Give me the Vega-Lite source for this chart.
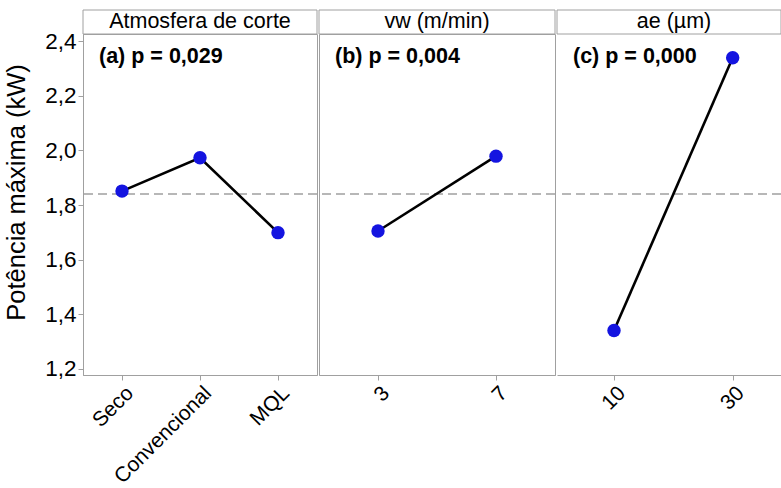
{
  "$schema": "https://vega.github.io/schema/vega-lite/v6.json",
  "padding": {"left": 4, "top": 9, "right": 0, "bottom": 0},
  "background": "white",
  "spacing": -3,
  "config": {
    "font": "Liberation Sans",
    "view": {"stroke": "#a0a0a0", "strokeWidth": 1},
    "axis": {"domainColor": "#a0a0a0", "tickColor": "#a0a0a0", "tickSize": 5, "labelColor": "black", "labelFontSize": 21, "labelFont": "Liberation Sans", "grid": false, "titleColor": "black", "titleFont": "Liberation Sans"},
    "concat": {"spacing": 0},
    "text": {"font": "Liberation Sans"}
  },
  "datasets": {
    "atm": [{"nivel": "Seco", "potencia": 1.851}, {"nivel": "Convencional", "potencia": 1.973}, {"nivel": "MQL", "potencia": 1.699}],
    "vw": [{"nivel": "3", "potencia": 1.705}, {"nivel": "7", "potencia": 1.979}],
    "ae": [{"nivel": 10, "potencia": 1.341}, {"nivel": 30, "potencia": 2.339}],
    "media": [{"media": 1.84}]
  },
  "hconcat": [
    {
      "spacing": 0,
      "bounds": "flush",
      "vconcat": [
        {"width": 234, "height": 24, "data": {"values": [{"fator": "Atmosfera de corte"}]},
          "layer": [
            {"mark": {"type": "rect", "fill": "white", "stroke": "#a0a0a0", "strokeWidth": 1}, "encoding": {}},
            {"mark": {"type": "text", "fontSize": 21.5, "color": "black", "baseline": "middle"}, "encoding": {"text": {"field": "fator"}}}
          ]},
        {
          "width": 234, "height": 341,
          "layer": [
            {"data": {"name": "media"}, "mark": {"type": "rule", "color": "#a0a0a0", "strokeDash": [9, 5], "strokeWidth": 1.5}, "encoding": {"y": {"field": "media", "type": "quantitative", "scale": {"domain": [1.178, 2.426], "nice": false, "zero": false}, "axis": {"title": "Potência máxima (kW)", "values": [1.2, 1.4, 1.6, 1.8, 2.0, 2.2, 2.4], "labelExpr": "replace(format(datum.value, '.1f'), '.', ',')", "labelFontSize": 22.5, "titleFontSize": 25.5, "titleFontWeight": "normal", "titlePadding": 15, "titleY": 158}}}},
            {"data": {"name": "atm"}, "mark": {"type": "line", "color": "black", "strokeWidth": 2.6}, "encoding": {"x": {"field": "nivel", "type": "ordinal", "scale": {"domain": ["Seco", "Convencional", "MQL"]}, "axis": {"title": null, "labelAngle": -45, "labelAlign": "right", "labelBaseline": "top", "labelPadding": 2}}, "y": {"field": "potencia", "type": "quantitative", "scale": {"domain": [1.178, 2.426], "nice": false, "zero": false}, "axis": {"title": "Potência máxima (kW)", "values": [1.2, 1.4, 1.6, 1.8, 2.0, 2.2, 2.4], "labelExpr": "replace(format(datum.value, '.1f'), '.', ',')", "labelFontSize": 22.5, "titleFontSize": 25.5, "titleFontWeight": "normal", "titlePadding": 15, "titleY": 158}}}},
            {"data": {"name": "atm"}, "mark": {"type": "point", "filled": true, "color": "#1414e0", "size": 180, "opacity": 1}, "encoding": {"x": {"field": "nivel", "type": "ordinal"}, "y": {"field": "potencia", "type": "quantitative"}}},
            {"data": {"values": [{"nota": "(a) p = 0,029"}]}, "mark": {"type": "text", "align": "left", "baseline": "middle", "fontSize": 21.5, "fontWeight": "bold", "color": "black", "dx": -23}, "encoding": {"x": {"datum": "Seco", "type": "ordinal"}, "y": {"datum": 2.34, "type": "quantitative"}, "text": {"field": "nota"}}}
          ]
        }
      ]
    },
    {
      "spacing": 0,
      "bounds": "flush",
      "vconcat": [
        {"width": 236, "height": 24, "data": {"values": [{"fator": "vw (m/min)"}]},
          "layer": [
            {"mark": {"type": "rect", "fill": "white", "stroke": "#a0a0a0", "strokeWidth": 1}, "encoding": {}},
            {"mark": {"type": "text", "fontSize": 21.5, "color": "black", "baseline": "middle"}, "encoding": {"text": {"field": "fator"}}}
          ]},
        {
          "width": 236, "height": 341,
          "layer": [
            {"data": {"name": "media"}, "mark": {"type": "rule", "color": "#a0a0a0", "strokeDash": [9, 5], "strokeWidth": 1.5}, "encoding": {"y": {"field": "media", "type": "quantitative", "scale": {"domain": [1.178, 2.426], "nice": false, "zero": false}, "axis": null}}},
            {"data": {"name": "vw"}, "mark": {"type": "line", "color": "black", "strokeWidth": 2.6}, "encoding": {"x": {"field": "nivel", "type": "ordinal", "scale": {"domain": ["3", "7"]}, "axis": {"title": null, "labelAngle": -45, "labelAlign": "right", "labelBaseline": "top", "labelPadding": 2}}, "y": {"field": "potencia", "type": "quantitative", "scale": {"domain": [1.178, 2.426], "nice": false, "zero": false}, "axis": null}}},
            {"data": {"name": "vw"}, "mark": {"type": "point", "filled": true, "color": "#1414e0", "size": 180, "opacity": 1}, "encoding": {"x": {"field": "nivel", "type": "ordinal"}, "y": {"field": "potencia", "type": "quantitative", "axis": null}}},
            {"data": {"values": [{"nota": "(b) p = 0,004"}]}, "mark": {"type": "text", "align": "left", "baseline": "middle", "fontSize": 21.5, "fontWeight": "bold", "color": "black", "dx": -43}, "encoding": {"x": {"datum": "3", "type": "ordinal"}, "y": {"datum": 2.34, "type": "quantitative", "axis": null}, "text": {"field": "nota"}}}
          ]
        }
      ]
    },
    {
      "spacing": 0,
      "bounds": "flush",
      "vconcat": [
        {"width": 224, "height": 24, "data": {"values": [{"fator": "ae (µm)"}]},
          "layer": [
            {"mark": {"type": "rect", "fill": "white", "stroke": "#a0a0a0", "strokeWidth": 1}, "encoding": {}},
            {"mark": {"type": "text", "fontSize": 21.5, "color": "black", "baseline": "middle", "dx": 5}, "encoding": {"text": {"field": "fator"}}}
          ]},
        {
          "width": 224, "height": 341,
          "view": {"stroke": null},
          "layer": [
            {"data": {"name": "media"}, "mark": {"type": "rule", "color": "#a0a0a0", "strokeDash": [9, 5], "strokeWidth": 1.5}, "encoding": {"y": {"field": "media", "type": "quantitative", "scale": {"domain": [1.178, 2.426], "nice": false, "zero": false}, "axis": null}}},
            {"data": {"name": "ae"}, "mark": {"type": "line", "color": "black", "strokeWidth": 2.6}, "encoding": {"x": {"field": "nivel", "type": "quantitative", "scale": {"domain": [0.396, 38.14], "nice": false, "zero": false}, "axis": {"title": null, "values": [10, 30], "labelAngle": -45, "labelAlign": "right", "labelBaseline": "top", "labelPadding": 2}}, "y": {"field": "potencia", "type": "quantitative", "scale": {"domain": [1.178, 2.426], "nice": false, "zero": false}, "axis": null}}},
            {"data": {"name": "ae"}, "mark": {"type": "point", "filled": true, "color": "#1414e0", "size": 180, "opacity": 1}, "encoding": {"x": {"field": "nivel", "type": "quantitative"}, "y": {"field": "potencia", "type": "quantitative", "axis": null}}},
            {"data": {"values": [{"nota": "(c) p = 0,000"}]}, "mark": {"type": "text", "align": "left", "baseline": "middle", "fontSize": 21.5, "fontWeight": "bold", "color": "black", "dx": -41}, "encoding": {"x": {"datum": 10, "type": "quantitative"}, "y": {"datum": 2.34, "type": "quantitative", "axis": null}, "text": {"field": "nota"}}}
          ]
        }
      ]
    }
  ]
}
